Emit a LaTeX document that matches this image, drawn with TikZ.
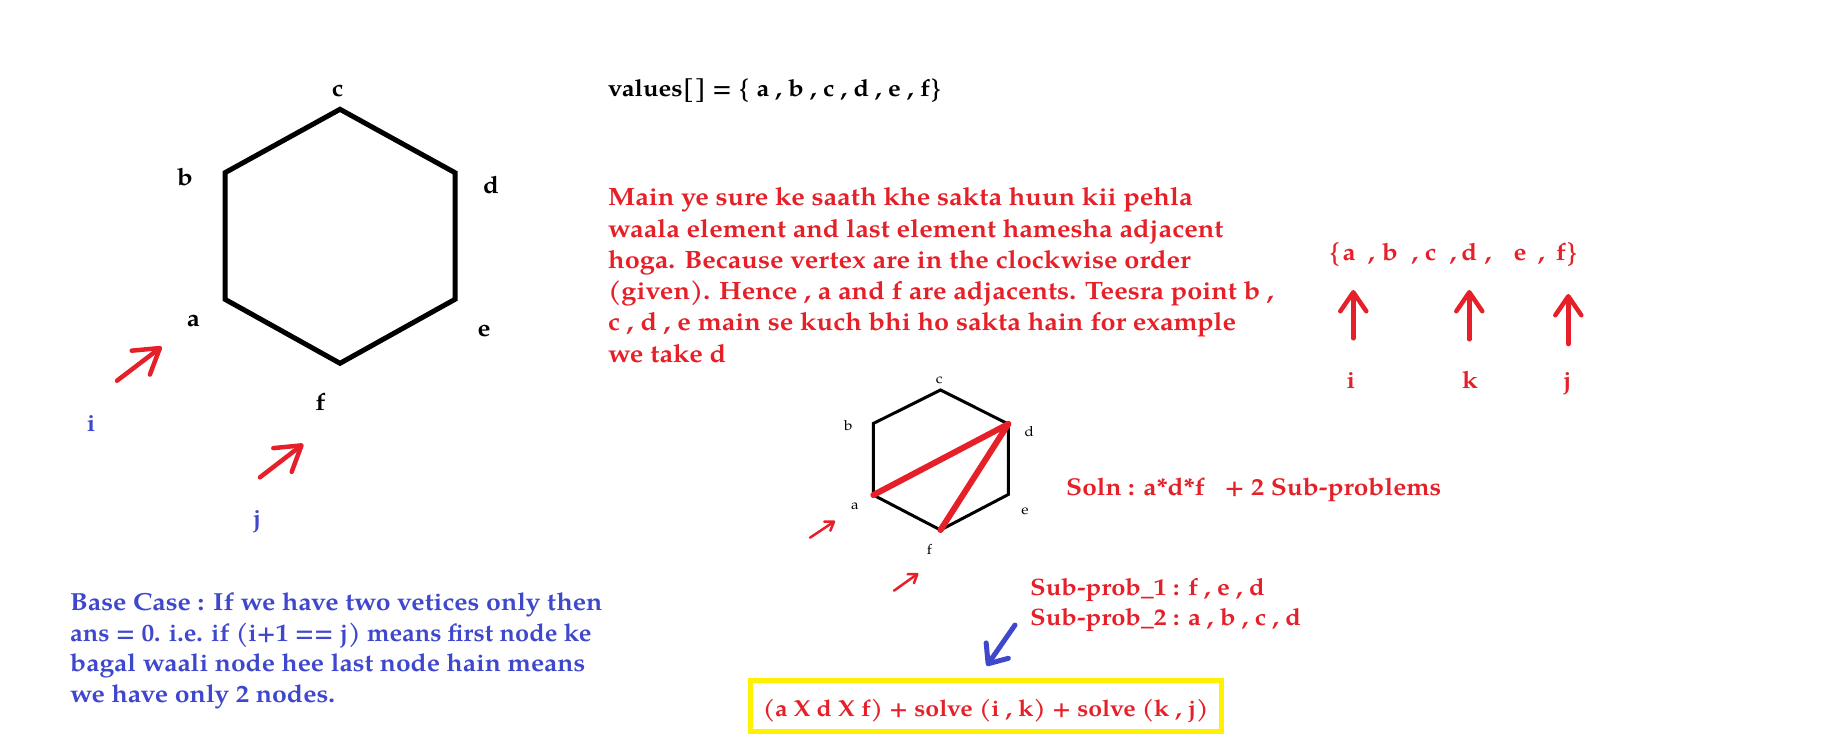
\documentclass[tikz,border=0pt]{standalone}
\usepackage{fontspec}
\setmainfont{texgyrepagella}[Extension=.otf, UprightFont=*-regular, BoldFont=*-bold, ItalicFont=*-italic, BoldItalicFont=*-bolditalic, FakeStretch=1.08]
\usetikzlibrary{arrows.meta}
\definecolor{pred}{RGB}{230,32,40}
\definecolor{pblue}{RGB}{63,72,204}
\definecolor{pyellow}{RGB}{255,242,0}
\begin{document}
\begin{tikzpicture}[x=1pt,y=-1pt,
  redtxt/.style={inner sep=0pt, anchor=base west, text=pred, font=\bfseries\fontsize{25.1}{31}\selectfont},
  subtxt/.style={inner sep=0pt, anchor=base west, text=pred, font=\bfseries\fontsize{23.7}{30}\selectfont},
  solntxt/.style={subtxt, font=\bfseries\fontsize{24.3}{30}\selectfont},
  formtxt/.style={subtxt, font=\bfseries\fontsize{23.1}{30}\selectfont},
  bluetxt/.style={inner sep=0pt, anchor=base west, text=pblue, font=\bfseries\fontsize{24.7}{30}\selectfont},
  blktxt/.style={inner sep=0pt, anchor=base west, text=black, font=\bfseries\fontsize{23.6}{30}\selectfont},
  setch/.style={inner sep=0pt, anchor=base, text=pred, font=\bfseries\fontsize{24}{28}\selectfont},
  biglab/.style={inner sep=0pt, anchor=base, font=\bfseries\fontsize{24}{28}\selectfont},
  bluelab/.style={biglab, text=pblue},
  smalllab/.style={inner sep=0pt, anchor=base, font=\fontsize{14}{16}\selectfont},
  hexbig/.style={draw=black, line width=5pt, line join=miter},
  hexsmall/.style={draw=black, line width=3pt, line join=miter},
  diag/.style={draw=pred, line width=6pt, line cap=round},
  redarrow/.style={draw=pred, line width=4.5pt, line cap=round, -{Straight Barb[length=24pt, width=30pt, round]}},
  smallarrow/.style={draw=pred, line width=2.5pt, line cap=round, -{Straight Barb[length=8pt, width=11pt, round]}},
  uparrow/.style={draw=pred, line width=4.5pt, line cap=round, -{Straight Barb[length=19pt, width=26pt, round]}},
  bluearrow/.style={draw=pblue, line width=5pt, line cap=round, -{Straight Barb[length=16pt, width=27pt, round]}},
  ybox/.style={draw=pyellow, line width=5pt, minimum width=471pt, minimum height=51pt, inner sep=0pt}
]
\useasboundingbox[fill=white] (0,0) rectangle (1846,742);

% big hexagon
\coordinate (A) at (225,299.3);
\coordinate (B) at (225,172.7);
\coordinate (C) at (340,109.3);
\coordinate (D) at (455,172.7);
\coordinate (E) at (455,299.3);
\coordinate (F) at (340,363.3);
\draw[hexbig] (A) -- (B) -- (C) -- (D) -- (E) -- (F) -- cycle;
\node[biglab] (la) at (193.3,326.7) {a};
\node[biglab] (lb) at (185,185) {b};
\node[biglab] (lc) at (337.5,96.7) {c};
\node[biglab] (ld) at (491,193.3) {d};
\node[biglab] (le) at (484,336.7) {e};
\node[biglab] (lf) at (320.5,410) {f};
\node[bluelab] (li) at (91.3,431.7) {i};
\node[bluelab] (lj) at (257.3,526.7) {j};
\coordinate (it) at (117,380.7);
\coordinate (ih) at (161.7,346.7);
\draw[redarrow] (it) -- (ih);
\coordinate (jt) at (260,477.3);
\coordinate (jh) at (303.3,444);
\draw[redarrow] (jt) -- (jh);

% values line
\node[blktxt] (vals) at (608,96.7) {values[] = \{ a , b , c , d , e , f\}};

% red paragraph
\node[redtxt] (p1) at (608,205.7) {Main ye sure ke saath khe sakta huun kii pehla};
\node[redtxt] (p2) at (608,237) {waala element and last element hamesha adjacent};
\node[redtxt] (p3) at (608,268.3) {hoga. Because vertex are in the clockwise order};
\node[redtxt] (p4) at (608,299.6) {(given). Hence , a and f are adjacents. Teesra point b ,};
\node[redtxt] (p5) at (608,330.9) {c , d , e main se kuch bhi ho sakta hain for example};
\node[redtxt] (p6) at (608,362.2) {we take d};

% right set with pointers
\node[setch, anchor=base west] (sob) at (1328.3,260) {\{};
\node[setch] (sa) at (1349,260) {a};
\node[setch] (c1) at (1371.7,260) {,};
\node[setch] (sb) at (1390,260) {b};
\node[setch] (c2) at (1415,260) {,};
\node[setch] (sc) at (1430.7,260) {c};
\node[setch] (c3) at (1453.3,260) {,};
\node[setch] (sd) at (1469.3,260) {d};
\node[setch] (c4) at (1488.3,260) {,};
\node[setch] (se) at (1520,260) {e};
\node[setch] (c5) at (1541.7,260) {,};
\node[setch, anchor=base east] (sf) at (1578.3,260) {f\}};
\coordinate (u1t) at (1353.3,338.3);
\coordinate (u1h) at (1353.3,290);
\coordinate (u2t) at (1469.3,339.3);
\coordinate (u2h) at (1469.3,290);
\coordinate (u3t) at (1568.3,344);
\coordinate (u3h) at (1568.3,294);
\draw[uparrow] (u1t) -- (u1h);
\draw[uparrow] (u2t) -- (u2h);
\draw[uparrow] (u3t) -- (u3h);
\node[setch] (pi) at (1351,388) {i};
\node[setch] (pk) at (1470,388) {k};
\node[setch] (pj) at (1567.3,388) {j};

% small hexagon
\coordinate (a2) at (873.3,495);
\coordinate (b2) at (873.3,423.5);
\coordinate (c2v) at (940.5,390);
\coordinate (d2) at (1008.3,424);
\coordinate (e2) at (1008.3,494.5);
\coordinate (f2) at (940.5,530);
\draw[hexsmall] (a2) -- (b2) -- (c2v) -- (d2) -- (e2) -- (f2) -- cycle;
\draw[diag] (a2) -- (d2);
\draw[diag] (f2) -- (d2);
\node[smalllab] (sla) at (855,509) {a};
\node[smalllab] (slb) at (848.3,430.7) {b};
\node[smalllab] (slc) at (939.3,383.3) {c};
\node[smalllab] (sld) at (1029.3,436) {d};
\node[smalllab] (sle) at (1025,514) {e};
\node[smalllab] (slf) at (929.3,554) {f};
\coordinate (sat) at (810,537.7);
\coordinate (sah) at (835,521);
\draw[smallarrow] (sat) -- (sah);
\coordinate (sft) at (894,590.7);
\coordinate (sfh) at (918.3,573.3);
\draw[smallarrow] (sft) -- (sfh);

\node[solntxt] (soln) at (1066,495) {Soln : a*d*f\ \ \ + 2 Sub-problems};
\node[subtxt] (sp1) at (1030,595) {Sub-prob\_1 : f , e , d};
\node[subtxt] (sp2) at (1030,625) {Sub-prob\_2 : a , b , c , d};

% base case
\node[bluetxt] (bc1) at (70,610) {Base Case : If we have two vetices only then};
\node[bluetxt] (bc2) at (70,641) {\scalebox{0.95}[1]{ans = 0. i.e. if (i+1 == j) means first node ke}};
\node[bluetxt] (bc3) at (70,671.8) {\scalebox{0.99}[1]{bagal waali node hee last node hain means}};
\node[bluetxt] (bc4) at (70,702.7) {we have only 2 nodes.};

% formula box
\node[ybox] (box) at (985.5,705.5) {};
\node[formtxt, anchor=base] (formula) at (985.8,716.7) {(a X d X f) + solve (i , k) + solve (k , j)};
\coordinate (bat) at (1015,625);
\draw[bluearrow] (bat) -- ([xshift=1.2pt, yshift=11.7pt]box.north);
\end{tikzpicture}
\end{document}
